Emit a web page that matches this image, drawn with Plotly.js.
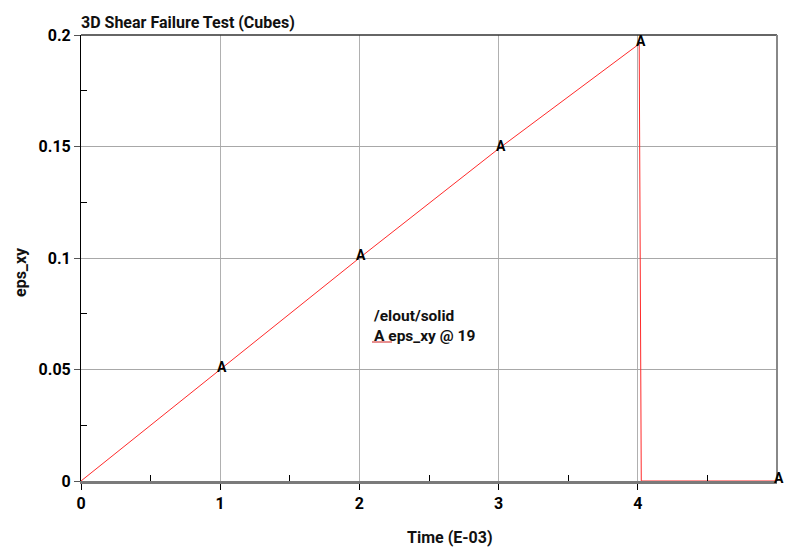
<!DOCTYPE html>
<html>
<head>
<meta charset="utf-8">
<script src="https://cdn.plot.ly/plotly-3.0.1.min.js"></script>
<style>html,body{margin:0;padding:0;background:#fff;}#chart{width:793px;height:551px;}</style>
</head>
<body>
<div id="chart"></div>
<script>
// Data (time in E-03, eps_xy)
const timeVals = [0, 1, 2, 3, 4.01, 4.025, 5];
const epsVals  = [0, 0.05, 0.1, 0.149, 0.196, 0, 0];
// "A" marker positions
const markTime = [1, 2, 3, 4.01, 5];
const markEps  = [0.05, 0.1, 0.149, 0.196, 0];
const markLabels = ['A', 'A', 'A', 'A', 'A'];
const xTickVals = [0, 1, 2, 3, 4];
const xTickText = ['0', '1', '2', '3', '4'];
const yTickVals = [0, 0.05, 0.1, 0.15, 0.2];
const yTickText = ['0', '0.05', '0.1', '0.15', '0.2'];

const FONT = 'Roboto, "Noto Sans", sans-serif';

const traces = [
  {
    x: timeVals, y: epsVals, type: 'scatter', mode: 'lines',
    line: {color: '#ff2a2a', width: 1}, showlegend: false, hoverinfo: 'skip', cliponaxis: false
  }
];

const L = 81, R = 777, T = 35, B = 481;
const pw = R - L, ph = B - T;
const px = v => (v - L) / pw;
const py = v => (B - v) / ph;

const markAnn = markTime.map((t, i) => ({
  xref: 'x', yref: 'y', x: t, y: markEps[i], text: '<b>' + markLabels[i] + '</b>',
  showarrow: false, xanchor: 'center', yanchor: 'middle', xshift: 2, yshift: 3,
  font: {family: FONT, size: 14, color: '#000'}
}));

const layout = {
  width: 793, height: 551,
  margin: {l: L, r: 793 - R, t: T, b: 551 - B},
  paper_bgcolor: '#fff', plot_bgcolor: '#fff',
  font: {family: FONT, color: '#000'},
  showlegend: false,
  title: {
    text: '<b>3D Shear Failure Test (Cubes)</b>',
    x: 81 / 793, xanchor: 'left', y: 1 - 22 / 551, yanchor: 'middle',
    font: {family: FONT, size: 16, color: '#111'}
  },
  xaxis: {
    range: [0, 5], tickvals: xTickVals, ticktext: xTickText,
    showgrid: true, gridcolor: '#b0b0b0', gridwidth: 1,
    zeroline: false, showline: true, linecolor: '#7a7a7a', linewidth: 2.5,
    ticks: 'outside', ticklen: 6, tickcolor: '#000', tickwidth: 1,
    tickfont: {family: FONT, size: 16, color: '#000', weight: 'bold'},
    minor: {tickvals: [0.5, 1.5, 2.5, 3.5, 4.5], ticks: 'inside', ticklen: 6, tickcolor: '#000', showgrid: false},
    fixedrange: true
  },
  yaxis: {
    range: [0, 0.2], tickvals: yTickVals, ticktext: yTickText,
    showgrid: true, gridcolor: '#a8a8a8', gridwidth: 1,
    zeroline: false, showline: true, linecolor: '#000', linewidth: 1,
    ticks: 'outside', ticklen: 6, tickcolor: '#555', tickwidth: 1,
    tickfont: {family: FONT, size: 16, color: '#000', weight: 'bold'},
    minor: {tickvals: [0.025, 0.075, 0.125, 0.175], ticks: 'inside', ticklen: 6, tickcolor: '#000', showgrid: false},
    fixedrange: true
  },
  shapes: [
    {type: 'line', xref: 'paper', yref: 'paper', x0: 0, x1: 1, y0: 1, y1: 1, line: {color: '#333', width: 1.5}},
    {type: 'line', xref: 'paper', yref: 'paper', x0: 1, x1: 1, y0: 0, y1: 1, line: {color: '#888', width: 2}},
    {type: 'line', xref: 'paper', yref: 'paper', x0: px(372), x1: px(392),
     y0: py(342), y1: py(342), line: {color: '#d02020', width: 1}}
  ],
  annotations: markAnn.concat([
    {xref: 'paper', yref: 'paper', x: px(371), y: py(316), xanchor: 'left', yanchor: 'middle',
     text: '<b>/elout/solid</b>', showarrow: false, font: {family: FONT, size: 15.5, color: '#111'}},
    {xref: 'paper', yref: 'paper', x: px(372), y: py(336), xanchor: 'left', yanchor: 'middle',
     text: '<b>A eps_xy @ 19</b>', showarrow: false, font: {family: FONT, size: 15.5, color: '#111'}},
    {xref: 'paper', yref: 'paper', x: px(450), y: py(537), xanchor: 'center', yanchor: 'middle',
     text: '<b>Time (E-03)</b>', showarrow: false, font: {family: FONT, size: 16, color: '#111'}},
    {xref: 'paper', yref: 'paper', x: px(20), y: py(272), xanchor: 'center', yanchor: 'middle', textangle: -90,
     text: '<b>eps_xy</b>', showarrow: false, font: {family: FONT, size: 16, color: '#111'}}
  ])
};

Plotly.newPlot('chart', traces, layout, {displayModeBar: false, staticPlot: true});
</script>
</body>
</html>
